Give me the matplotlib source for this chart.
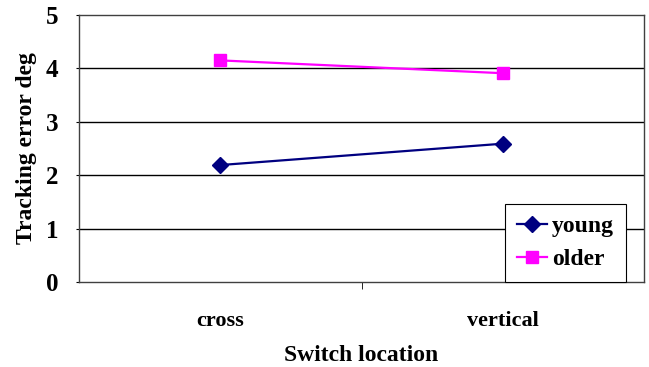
import matplotlib
matplotlib.use("Agg")
import matplotlib.pyplot as plt
import numpy as np

categories = ["cross", "vertical"]
young = [2.19, 2.59]
older = [4.15, 3.91]
y_ticks = [0, 1, 2, 3, 4, 5]

plt.rcParams["font.family"] = "Liberation Serif"
plt.rcParams["font.weight"] = "bold"

fig = plt.figure(figsize=(6.49, 3.67), dpi=100)
ax = fig.add_axes([79 / 649, 1 - 282 / 367, (644 - 79) / 649, (282 - 15) / 367])

x = np.arange(len(categories))
ax.plot(x, young, color="#000080", marker="D", markersize=8, linewidth=1.6, label="young")
ax.plot(x, older, color="#FF00FF", marker="s", markersize=8, linewidth=1.6, label="older")

ax.set_xlim(-0.5, len(categories) - 0.5)
ax.set_ylim(0, 5)
ax.set_yticks(y_ticks)
for v in y_ticks[1:-1]:
    ax.axhline(v, color="black", linewidth=1, zorder=0)

ax.set_xticks(x)
ax.set_xticklabels(categories)
ax.set_xticks([0.5], minor=True)
ax.tick_params(axis="x", which="major", length=0, pad=21, labelsize=16)
ax.tick_params(axis="x", which="minor", length=5, direction="out")
ax.tick_params(axis="y", length=2, direction="out", pad=13, labelsize=18)

ax.set_xlabel("Switch location", fontsize=17, fontweight="bold", labelpad=10)
ax.set_ylabel("Tracking error deg", fontsize=17, fontweight="bold", labelpad=6)

for side in ax.spines.values():
    side.set_color("#404040")
    side.set_linewidth(1)

leg = ax.legend(loc="lower right", bbox_to_anchor=(0.968, 0.0), fontsize=17,
                frameon=True, fancybox=False, framealpha=1, edgecolor="black",
                handlelength=1.3, borderpad=0.5, labelspacing=0.5, handletextpad=0.2,
                borderaxespad=0)
leg.get_frame().set_linewidth(0.8)

fig.savefig("out.png", dpi=100)
